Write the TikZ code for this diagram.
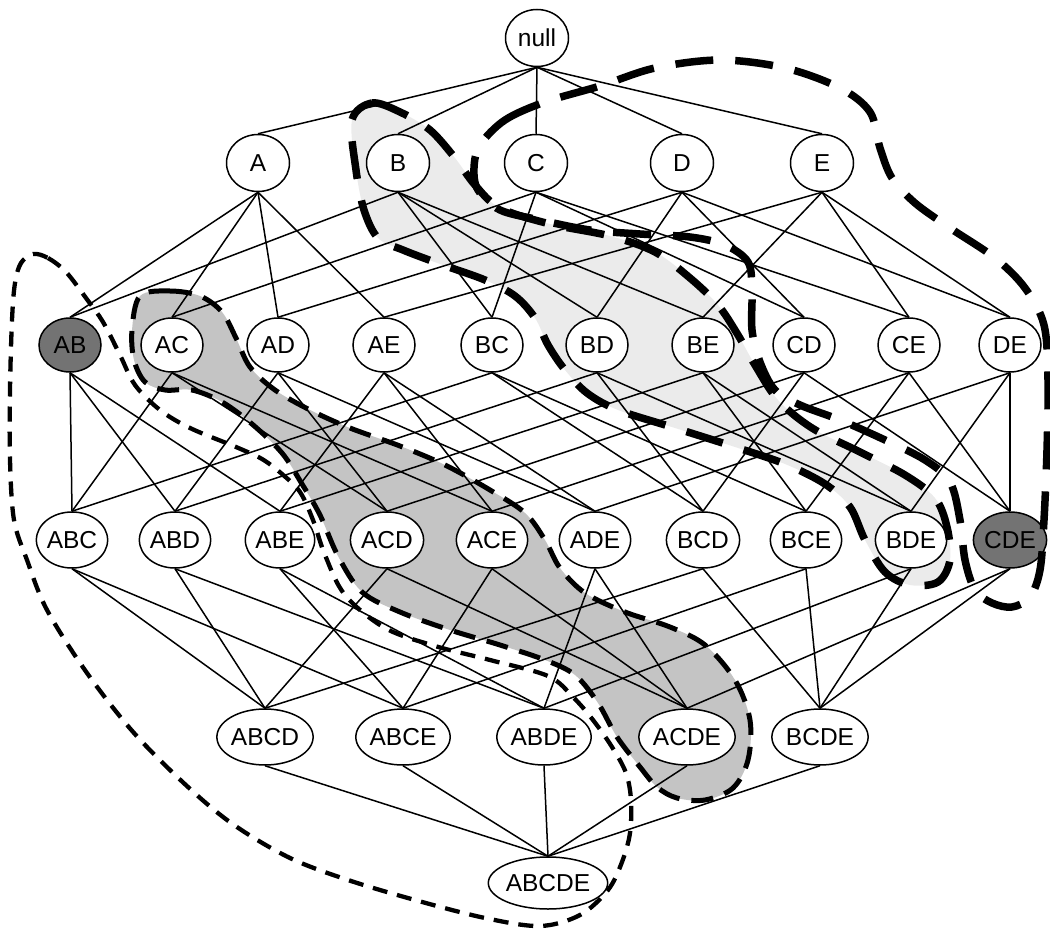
\documentclass[tikz,border=0pt]{standalone}
\usepackage{fontspec}
\setmainfont{Liberation Sans}
\usetikzlibrary{shapes.geometric}
\pgfdeclarelayer{fillbg}
\pgfdeclarelayer{edgebg}
\pgfdeclarelayer{fg}
\pgfsetlayers{fillbg,edgebg,main,fg}
\begin{document}
\begin{tikzpicture}[x=1pt,y=-1pt,
  nd/.style={ellipse,draw,line width=1.5pt,fill=white,inner sep=0pt,font=\fontsize{24.5}{24.5}\selectfont},
  s1/.style={nd,minimum width=63pt,minimum height=57pt},
  s2/.style={nd,minimum width=62pt,minimum height=54pt},
  s3/.style={nd,minimum width=64pt,minimum height=56pt},
  s4/.style={nd,minimum width=87pt,minimum height=56pt},
  s5/.style={nd,minimum width=112pt,minimum height=52pt},
  dark/.style={fill=black!55},
  edge/.style={line width=1.5pt},
  bigdash/.style={line width=7.5pt,dash pattern=on 38pt off 22pt},
  banddash/.style={line width=5pt,dash pattern=on 22pt off 12pt},
  thindash/.style={line width=4.3pt,dash pattern=on 15pt off 10pt}]
\useasboundingbox (0,0) rectangle (1050,931);

% nodes
\node[s1] (N0) at (537,38) {null};
\node[s1] (A) at (258,163) {A};
\node[s1] (B) at (398,163) {B};
\node[s1] (C) at (536,163) {C};
\node[s1] (D) at (682,163) {D};
\node[s1] (E) at (822,163) {E};

\node[s2,dark] (AB) at (70,345) {AB};
\node[s2] (AC) at (172,345) {AC};
\node[s2] (AD) at (278,345) {AD};
\node[s2] (AE) at (384,345) {AE};
\node[s2] (BC) at (492,345) {BC};
\node[s2] (BD) at (597,345) {BD};
\node[s2] (BE) at (703,345) {BE};
\node[s2] (CD) at (804,345) {CD};
\node[s2] (CE) at (909,345) {CE};
\node[s2] (DE) at (1010,345) {DE};

\node[s3] (ABC) at (72,540) {ABC};
\node[s3] (ABD) at (175,540) {ABD};
\node[s3] (ABE) at (280,540) {ABE};
\node[s3] (ACD) at (387,540) {ACD};
\node[s3] (ACE) at (492,540) {ACE};
\node[s3] (ADE) at (595,540) {ADE};
\node[s3] (BCD) at (703,540) {BCD};
\node[s3] (BCE) at (806,540) {BCE};
\node[s3] (BDE) at (911,540) {BDE};
\node[s3,dark] (CDE) at (1010,540) {CDE};

\node[s4] (ABCD) at (265,737) {ABCD};
\node[s4] (ABCE) at (403,737) {ABCE};
\node[s4] (ABDE) at (544,737) {ABDE};
\node[s4] (ACDE) at (687,737) {ACDE};
\node[s4] (BCDE) at (820,737) {BCDE};

\node[s5] (ABCDE) at (548,883) {ABCDE};

% edges
\begin{pgfonlayer}{edgebg}
\foreach \c in {A,B,C,D,E} \draw[edge] (N0.south) -- (\c.north);
\foreach \p/\c in {A/AB,A/AC,A/AD,A/AE,B/AB,B/BC,B/BD,B/BE,C/AC,C/BC,C/CD,C/CE,D/AD,D/BD,D/CD,D/DE,E/AE,E/BE,E/CE,E/DE}
  \draw[edge] (\p.south) -- (\c.north);
\foreach \c/\x/\y/\z in {ABC/AB/AC/BC,ABD/AB/AD/BD,ABE/AB/AE/BE,ACD/AC/AD/CD,ACE/AC/AE/CE,ADE/AD/AE/DE,BCD/BC/BD/CD,BCE/BC/BE/CE,BDE/BD/BE/DE,CDE/CD/CE/DE}
  {\draw[edge] (\x.south) -- (\c.north); \draw[edge] (\y.south) -- (\c.north); \draw[edge] (\z.south) -- (\c.north);}
\foreach \c/\w/\x/\y/\z in {ABCD/ABC/ABD/ACD/BCD,ABCE/ABC/ABE/ACE/BCE,ABDE/ABD/ABE/ADE/BDE,ACDE/ACD/ACE/ADE/CDE,BCDE/BCD/BCE/BDE/CDE}
  {\draw[edge] (\w.south) -- (\c.north); \draw[edge] (\x.south) -- (\c.north); \draw[edge] (\y.south) -- (\c.north); \draw[edge] (\z.south) -- (\c.north);}
\foreach \p in {ABCD,ABCE,ABDE,ACDE,BCDE} \draw[edge] (\p.south) -- (ABCDE.north);
\end{pgfonlayer}

% shaded regions
\begin{pgfonlayer}{fillbg}
\fill[black!8] plot[smooth cycle,tension=0.55] coordinates {(352,120)(372,103)(400,112)(430,130)(455,158)(475,185)(500,208)(550,224)(610,236)(655,252)(690,278)(718,305)(738,335)(755,365)(778,400)(812,428)(860,452)(905,475)(935,498)(947,527)(950,560)(938,582)(910,585)(885,572)(865,540)(850,507)(825,484)(785,464)(735,447)(675,428)(618,410)(587,393)(565,370)(548,345)(535,318)(515,296)(485,280)(440,264)(403,250)(378,238)(364,210)(356,170)};
\fill[black!23] plot[smooth cycle,tension=0.55] coordinates {(140,296)(170,291)(200,296)(222,312)(236,338)(250,367)(275,390)(310,410)(350,428)(400,446)(445,465)(490,490)(525,513)(545,540)(560,568)(585,593)(625,612)(670,627)(705,645)(735,680)(750,720)(748,760)(733,788)(705,800)(677,798)(657,787)(640,767)(617,737)(598,703)(575,675)(545,660)(500,645)(450,630)(400,612)(362,592)(338,556)(320,515)(302,484)(282,453)(252,424)(222,402)(192,390)(165,390)(145,382)(134,360)(132,330)};
\end{pgfonlayer}

% dashed outlines
\begin{pgfonlayer}{fg}
\draw[bigdash] plot[smooth cycle,tension=0.55] coordinates {(480,145)(505,120)(545,102)(600,86)(655,68)(720,60)(785,68)(840,88)(870,112)(880,148)(892,178)(915,203)(950,228)(995,258)(1025,288)(1044,325)(1048,380)(1047,450)(1044,520)(1040,570)(1030,597)(1012,607)(992,603)(975,590)(965,560)(960,520)(950,482)(925,460)(885,440)(840,420)(800,405)(775,390)(760,362)(752,330)(752,290)(748,262)(725,245)(690,237)(640,234)(590,230)(540,220)(500,210)(478,190)(474,168)};
\draw[bigdash] plot[smooth cycle,tension=0.55] coordinates {(352,120)(372,103)(400,112)(430,130)(455,158)(475,185)(500,208)(550,224)(610,236)(655,252)(690,278)(718,305)(738,335)(755,365)(778,400)(812,428)(860,452)(905,475)(935,498)(947,527)(950,560)(938,582)(910,585)(885,572)(865,540)(850,507)(825,484)(785,464)(735,447)(675,428)(618,410)(587,393)(565,370)(548,345)(535,318)(515,296)(485,280)(440,264)(403,250)(378,238)(364,210)(356,170)};
\draw[banddash] plot[smooth cycle,tension=0.55] coordinates {(140,296)(170,291)(200,296)(222,312)(236,338)(250,367)(275,390)(310,410)(350,428)(400,446)(445,465)(490,490)(525,513)(545,540)(560,568)(585,593)(625,612)(670,627)(705,645)(735,680)(750,720)(748,760)(733,788)(705,800)(677,798)(657,787)(640,767)(617,737)(598,703)(575,675)(545,660)(500,645)(450,630)(400,612)(362,592)(338,556)(320,515)(302,484)(282,453)(252,424)(222,402)(192,390)(165,390)(145,382)(134,360)(132,330)};
\draw[thindash] plot[smooth cycle,tension=0.55] coordinates {(33,254)(48,258)(66,272)(86,298)(103,322)(120,355)(135,385)(160,410)(190,428)(236,447)(262,459)(282,474)(300,492)(313,520)(325,555)(345,595)(385,628)(435,646)(490,660)(548,676)(573,697)(593,720)(612,747)(626,773)(631,800)(630,833)(622,862)(608,890)(580,915)(540,926)(485,918)(415,900)(348,880)(290,858)(234,825)(188,787)(134,733)(87,673)(47,610)(27,560)(14,520)(10,460)(10,390)(12,320)(15,283)(21,263)};
\end{pgfonlayer}
\end{tikzpicture}
\end{document}
